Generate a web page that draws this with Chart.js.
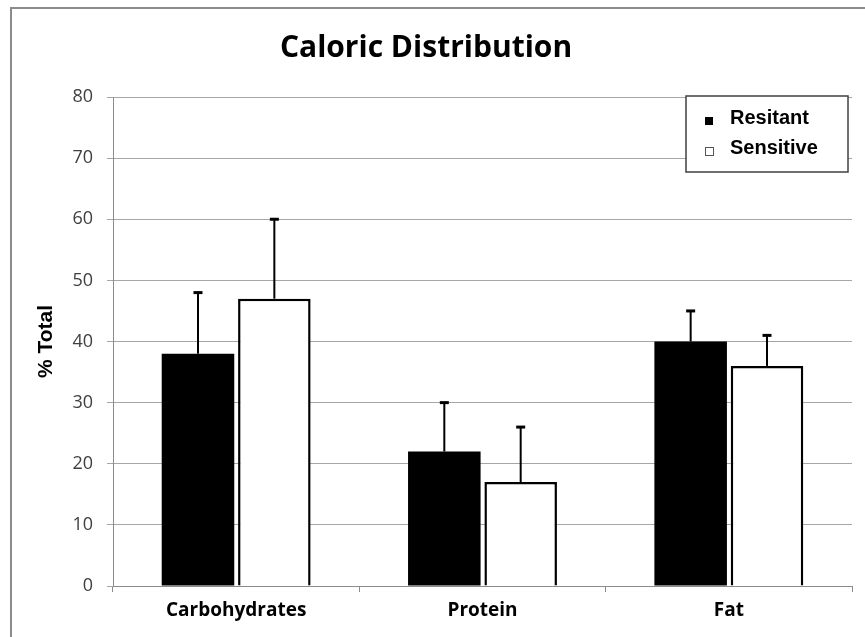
<!DOCTYPE html>
<html>
<head>
<meta charset="utf-8">
<script src="https://cdn.jsdelivr.net/npm/chart.js@4"></script>
<style>
  body { margin: 0; background: #fff; }
  #frame { position: absolute; left: 10px; top: 7px; width: 1000px; height: 1000px;
           border-left: 2px solid #8c8c8c; border-top: 2px solid #8c8c8c; }
  #myChart { position: absolute; left: 0; top: 0; }
</style>
</head>
<body>
<div id="frame"></div>
<canvas id="myChart" width="865" height="637"></canvas>
<script>
// chart data
var categories = ['Carbohydrates', 'Protein', 'Fat'];
var resistant = [38, 22, 40];
var resistantErr = [10, 8, 5];
var sensitive = [47, 17, 36];
var sensitiveErr = [13, 9, 5];
var yTicks = [0, 10, 20, 30, 40, 50, 60, 70, 80];

// error bars on top of each bar
var errorBars = {
  id: 'errorBars',
  afterDatasetsDraw: function (chart) {
    var ctx = chart.ctx;
    var y = chart.scales.y;
    chart.data.datasets.forEach(function (ds, i) {
      var meta = chart.getDatasetMeta(i);
      meta.data.forEach(function (bar, j) {
        var top = y.getPixelForValue(ds.data[j] + ds.errors[j]);
        ctx.save();
        ctx.strokeStyle = '#000';
        ctx.lineWidth = 2;
        ctx.beginPath();
        ctx.moveTo(bar.x, bar.y);
        ctx.lineTo(bar.x, top);
        ctx.stroke();
        ctx.lineWidth = 3;
        ctx.beginPath();
        ctx.moveTo(bar.x - 4.5, top);
        ctx.lineTo(bar.x + 4.5, top);
        ctx.stroke();
        ctx.restore();
      });
    });
  }
};

// boxed legend inside the plot, top right
var boxLegend = {
  id: 'boxLegend',
  afterDraw: function (chart) {
    var ctx = chart.ctx;
    var a = chart.chartArea;
    var w = 162, h = 76;
    var x0 = a.right - 4 - w, y0 = a.top - 1;
    ctx.save();
    ctx.fillStyle = '#fff';
    ctx.fillRect(x0, y0, w, h);
    ctx.strokeStyle = '#404040';
    ctx.lineWidth = 1.5;
    ctx.strokeRect(x0, y0, w, h);
    ctx.font = 'bold 20px "Liberation Sans", Arial, sans-serif';
    ctx.textBaseline = 'middle';
    chart.data.datasets.forEach(function (ds, i) {
      var cy = y0 + 22 + i * 30;
      if (ds.backgroundColor == '#000000') {
        ctx.fillStyle = '#000';
        ctx.fillRect(x0 + 19, cy - 1, 8, 8);
      } else {
        ctx.strokeStyle = '#555';
        ctx.lineWidth = 1;
        ctx.strokeRect(x0 + 19.5, cy - 0.5, 8, 8);
      }
      ctx.fillStyle = '#000';
      ctx.fillText(ds.label, x0 + 44, cy);
    });
    ctx.restore();
  }
};

new Chart('myChart', {
  type: 'bar',
  data: {
    labels: categories,
    datasets: [{
      label: 'Resitant',
      data: resistant,
      errors: resistantErr,
      backgroundColor: '#000000',
      borderColor: '#000000',
      borderWidth: 0
    }, {
      label: 'Sensitive',
      data: sensitive,
      errors: sensitiveErr,
      backgroundColor: '#ffffff',
      borderColor: '#000000',
      borderWidth: 2.5
    }]
  },
  options: {
    responsive: false,
    animation: false,
    categoryPercentage: 0.62,
    barPercentage: 0.95,
    layout: { padding: { left: 0, right: 13, top: 0, bottom: 0 } },
    plugins: {
      legend: { display: false },
      tooltip: { enabled: false },
      title: {
        display: true,
        text: 'Caloric Distribution',
        color: '#000',
        font: { family: '"Open Sans", sans-serif', size: 30, weight: 'bold', lineHeight: 1.2 },
        padding: { top: 30, bottom: 31 }
      }
    },
    scales: {
      x: {
        grid: { drawOnChartArea: false, color: '#8c8c8c', tickLength: 6 },
        border: { color: '#8c8c8c', width: 1 },
        ticks: {
          color: '#000',
          padding: 7,
          font: { family: '"Open Sans", sans-serif', size: 19, weight: 'bold' }
        },
        afterFit: function (scale) { scale.height = 51; }
      },
      y: {
        min: 0,
        max: 80,
        grid: { color: '#a6a6a6', tickLength: 6 },
        border: { color: '#8c8c8c', width: 1 },
        ticks: {
          stepSize: 10,
          padding: 14,
          color: '#404040',
          font: { family: '"Open Sans", sans-serif', size: 18 }
        },
        afterBuildTicks: function (scale) {
          scale.ticks = yTicks.map(function (v) { return { value: v }; });
        },
        title: {
          display: true,
          text: '% Total',
          color: '#000',
          font: { family: '"Liberation Sans", Arial, sans-serif', size: 21, weight: 'bold' },
          padding: { top: 34, bottom: 0 }
        },
        afterFit: function (scale) { scale.width = 113; }
      }
    }
  },
  plugins: [errorBars, boxLegend]
});
</script>
</body>
</html>
